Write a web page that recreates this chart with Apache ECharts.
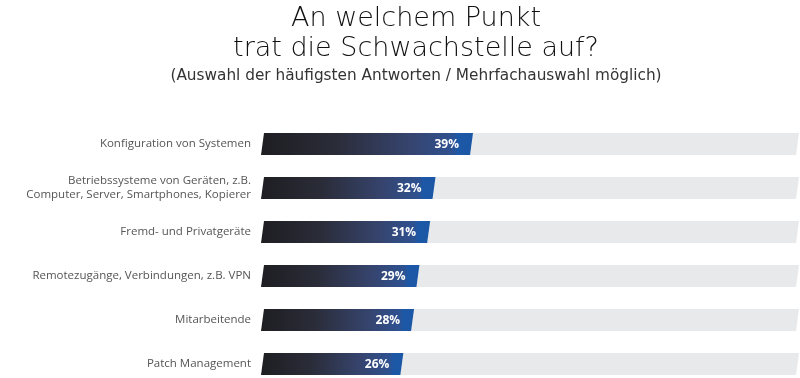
<!DOCTYPE html>
<html><head><meta charset="utf-8">
<script src="https://cdn.jsdelivr.net/npm/echarts@6/dist/echarts.min.js"></script>
<style>html,body{margin:0;padding:0;background:#fff}#c{width:800px;height:378px}</style>
</head><body><div id="c"></div>
<script>
const titleText = "An welchem Punkt\ntrat die Schwachstelle auf?";
const subtitleText = "(Auswahl der häufigsten Antworten / Mehrfachauswahl möglich)";
const categories = [
  "Konfiguration von Systemen",
  "Betriebssysteme von Geräten, z.B.\nComputer, Server, Smartphones, Kopierer",
  "Fremd- und Privatgeräte",
  "Remotezugänge, Verbindungen, z.B. VPN",
  "Mitarbeitende",
  "Patch Management"
];
const values = [39, 32, 31, 29, 28, 26];
const maxValue = 100;

const chart = echarts.init(document.getElementById('c'));
const SLANT = 3;
function renderBar(params, api) {
  const i = api.value(0), v = api.value(1);
  const p0 = api.coord([0, i]);
  const p1 = api.coord([v, i]);
  const pm = api.coord([maxValue, i]);
  const step = Math.abs(api.coord([0, 1])[1] - api.coord([0, 0])[1]);
  const h = step * 0.5;
  const yT = p0[1] - h / 2, yB = p0[1] + h / 2;
  return {
    type: 'group',
    children: [
      { type: 'polygon', shape: { points: [[p1[0], yB], [p1[0] + SLANT, yT], [pm[0] + SLANT - 1, yT], [pm[0] - 1, yB]] },
        style: { fill: '#e8e9ea' } },
      { type: 'polygon', shape: { points: [[p0[0], yB], [p0[0] + SLANT, yT], [p1[0] + SLANT, yT], [p1[0], yB]] },
        style: { fill: { type: 'linear', x: 0, y: 0, x2: 1, y2: 0, colorStops: [
          { offset: 0, color: '#1e1e22' }, { offset: 0.35, color: '#2a2c38' },
          { offset: 0.7, color: '#36446e' }, { offset: 0.9, color: '#2e5190' }, { offset: 0.93, color: '#1d58a6' }, { offset: 1, color: '#1b57a5' }] } } },
      { type: 'text', style: { text: v + '%', x: p1[0] - 11, y: p0[1] + 1, align: 'right', verticalAlign: 'middle',
        fill: '#ffffff', font: 'bold 12px "Open Sans"' } }
    ]
  };
}
chart.setOption({
  animation: false,
  title: [
    { text: titleText, left: 411, textAlign: 'center', top: -1, textStyle: { fontFamily: 'DejaVu Sans', fontWeight: 300, fontSize: 27, lineHeight: 30, color: '#111' } },
    { text: subtitleText, left: 411, textAlign: 'center', top: 64, textStyle: { fontFamily: 'DejaVu Sans', fontWeight: 'normal', fontSize: 15.3, color: '#333' } }
  ],
  grid: { left: 261, right: 3, top: 144, bottom: 14 },
  xAxis: { type: 'value', min: 0, max: maxValue, show: false },
  yAxis: { type: 'category', data: categories, inverse: true, boundaryGap: false,
    axisLine: { show: false }, axisTick: { show: false }, splitLine: { show: false },
    axisLabel: { margin: 10, fontFamily: 'Open Sans', fontSize: 11.5, color: '#555', lineHeight: 14 } },
  series: [{ type: 'custom', renderItem: renderBar, data: values.map((v, i) => [i, v]), clip: false }]
});
</script></body></html>
